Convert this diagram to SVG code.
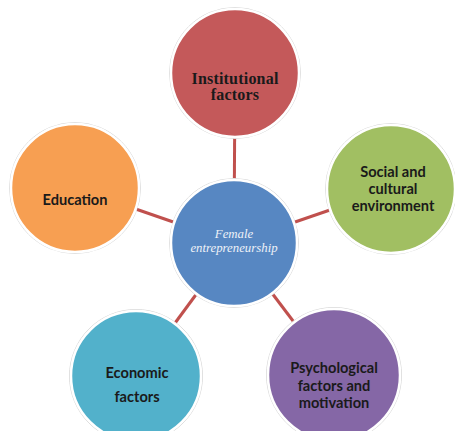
<svg xmlns="http://www.w3.org/2000/svg" width="455" height="431" viewBox="0 0 455 431">
  <style>
    .link { stroke: #C0504D; stroke-width: 3; fill: none; }
    .halo { fill: none; stroke: #d9d9d9; stroke-width: 1; }
    .disc { stroke: #ffffff; stroke-width: 2.5; }
    .lbl { font-family: "Lato", "Liberation Sans", sans-serif; font-weight: 700; font-size: 14.6px; fill: #1a1a1a; text-anchor: middle; }
    .serif { font-family: "Liberation Serif", "Times New Roman", serif; font-weight: 700; font-size: 16px; letter-spacing: 0.2px; fill: #1a1a1a; text-anchor: middle; }
    .hub { font-family: "Liberation Serif", "Times New Roman", serif; font-style: italic; font-size: 12.8px; fill: #eef2f8; text-anchor: middle; }
  </style>
  <rect width="455" height="431" fill="#ffffff"/>

  <g id="connectors">
    <line class="link" x1="234" y1="243" x2="235" y2="73"/>
    <line class="link" x1="234" y1="243" x2="75" y2="188"/>
    <line class="link" x1="234" y1="243" x2="391" y2="189"/>
    <line class="link" x1="234" y1="243" x2="136" y2="376"/>
    <line class="link" x1="234" y1="243" x2="334" y2="375"/>
  </g>

  <g id="institutional">
    <circle class="halo" cx="235" cy="73" r="65.5"/>
    <circle class="disc" cx="235" cy="73" r="64" fill="#C4595A"/>
    <text class="serif" x="235" y="83.5">Institutional</text>
    <text class="serif" x="235" y="99.5">factors</text>
  </g>

  <g id="education">
    <circle class="halo" cx="75" cy="188" r="65.5"/>
    <circle class="disc" cx="75" cy="188" r="64" fill="#F79F52"/>
    <text class="lbl" x="75" y="205">Education</text>
  </g>

  <g id="social">
    <circle class="halo" cx="391" cy="189" r="65.5"/>
    <circle class="disc" cx="391" cy="189" r="64" fill="#A1BF62"/>
    <text class="lbl" x="393" y="177">Social and</text>
    <text class="lbl" x="393" y="194">cultural</text>
    <text class="lbl" x="393" y="211">environment</text>
  </g>

  <g id="economic">
    <circle class="halo" cx="136" cy="376" r="66.5"/>
    <circle class="disc" cx="136" cy="376" r="65" fill="#52B1CB"/>
    <text class="lbl" x="137" y="378">Economic</text>
    <text class="lbl" x="137" y="402">factors</text>
  </g>

  <g id="psychological">
    <circle class="halo" cx="334" cy="375" r="67.5"/>
    <circle class="disc" cx="334" cy="375" r="66" fill="#8567A6"/>
    <text class="lbl" x="334" y="373">Psychological</text>
    <text class="lbl" x="334" y="391">factors and</text>
    <text class="lbl" x="334" y="408">motivation</text>
  </g>

  <g id="female-entrepreneurship">
    <circle class="halo" cx="234" cy="243" r="64.5"/>
    <circle class="disc" cx="234" cy="243" r="63" fill="#5787C2"/>
    <text class="hub" x="234" y="238">Female</text>
    <text class="hub" x="234" y="252">entrepreneurship</text>
  </g>
</svg>
